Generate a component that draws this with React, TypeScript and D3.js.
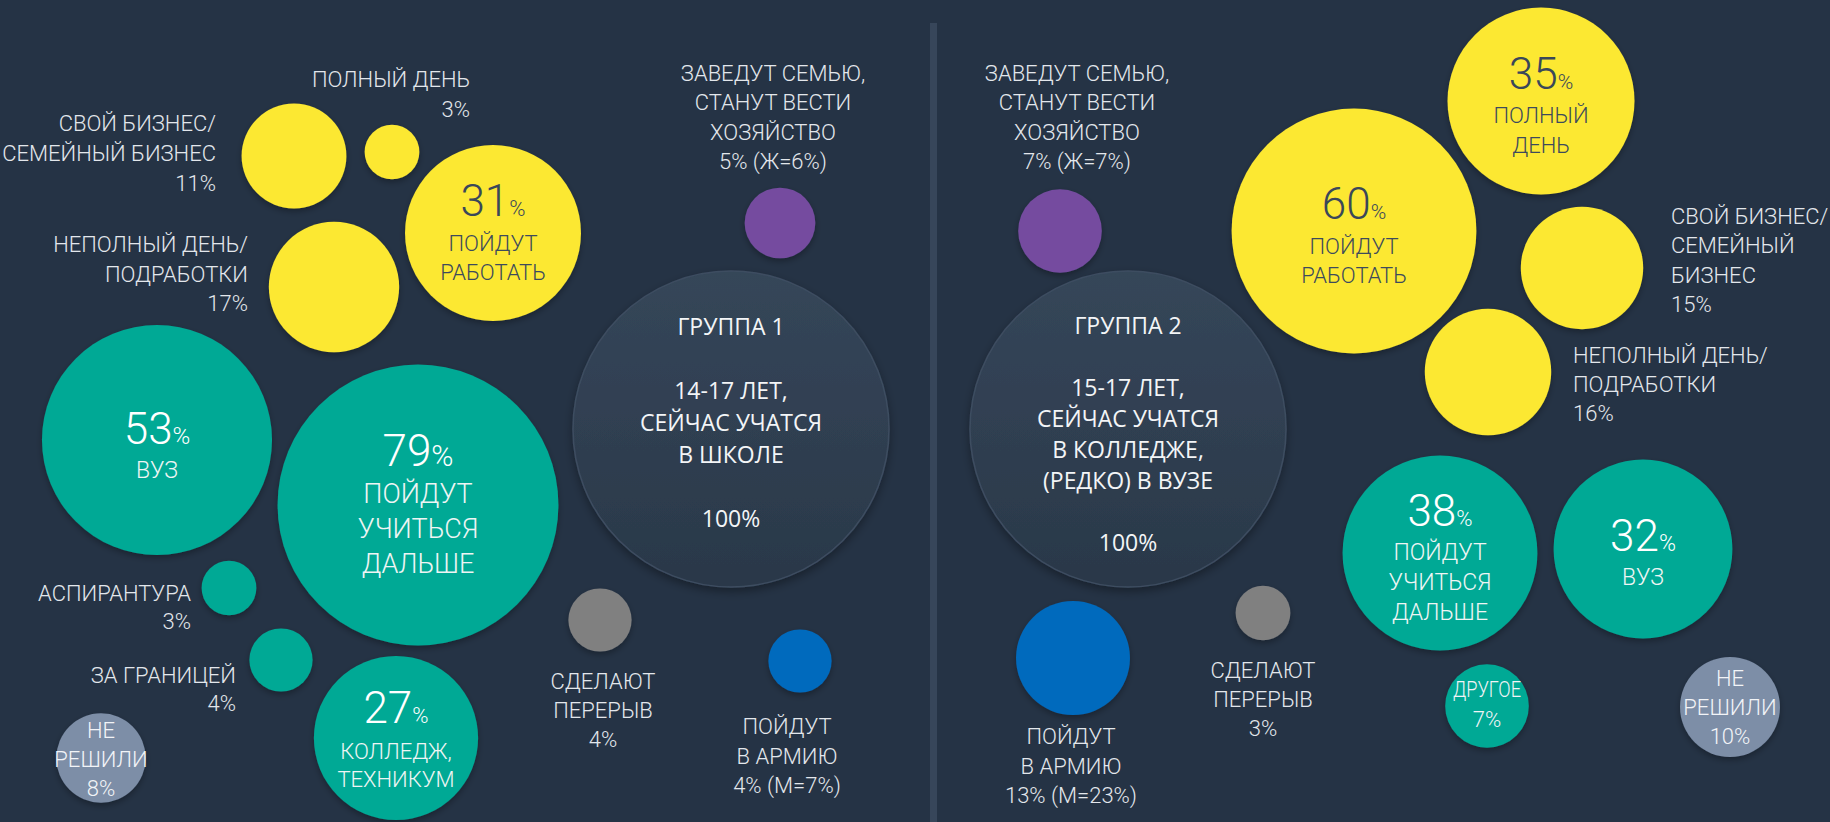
import React from "react";
import * as d3 from "d3";

const W = 1830;
const H = 822;

// ---- data: group 1 (14-17, school) ----
const group1Names = [
  "ГРУППА 1|14-17 ЛЕТ,|СЕЙЧАС УЧАТСЯ|В ШКОЛЕ",
  "ПОЙДУТ|РАБОТАТЬ",
  "ПОЛНЫЙ ДЕНЬ",
  "СВОЙ БИЗНЕС/|СЕМЕЙНЫЙ БИЗНЕС",
  "НЕПОЛНЫЙ ДЕНЬ/|ПОДРАБОТКИ",
  "ПОЙДУТ|УЧИТЬСЯ|ДАЛЬШЕ",
  "ВУЗ",
  "АСПИРАНТУРА",
  "ЗА ГРАНИЦЕЙ",
  "КОЛЛЕДЖ,|ТЕХНИКУМ",
  "НЕ|РЕШИЛИ",
  "ЗАВЕДУТ СЕМЬЮ,|СТАНУТ ВЕСТИ|ХОЗЯЙСТВО",
  "СДЕЛАЮТ|ПЕРЕРЫВ",
  "ПОЙДУТ|В АРМИЮ",
];
const group1Values = [100, 31, 3, 11, 17, 79, 53, 3, 4, 27, 8, 5, 4, 4];
const group1Notes = ["", "", "", "", "", "", "", "", "", "", "", "Ж=6%", "", "М=7%"];
const group1Kinds = [
  "center", "work", "work", "work", "work", "study", "study",
  "study", "study", "study", "undecided", "family", "gap", "army",
];

// ---- data: group 2 (15-17, college) ----
const group2Names = [
  "ГРУППА 2|15-17 ЛЕТ,|СЕЙЧАС УЧАТСЯ|В КОЛЛЕДЖЕ,|(РЕДКО) В ВУЗЕ",
  "ПОЙДУТ|РАБОТАТЬ",
  "ПОЛНЫЙ|ДЕНЬ",
  "СВОЙ БИЗНЕС/|СЕМЕЙНЫЙ|БИЗНЕС",
  "НЕПОЛНЫЙ ДЕНЬ/|ПОДРАБОТКИ",
  "ПОЙДУТ|УЧИТЬСЯ|ДАЛЬШЕ",
  "ВУЗ",
  "ДРУГОЕ",
  "НЕ|РЕШИЛИ",
  "ЗАВЕДУТ СЕМЬЮ,|СТАНУТ ВЕСТИ|ХОЗЯЙСТВО",
  "СДЕЛАЮТ|ПЕРЕРЫВ",
  "ПОЙДУТ|В АРМИЮ",
];
const group2Values = [100, 60, 35, 15, 16, 38, 32, 7, 10, 7, 3, 13];
const group2Notes = ["", "", "", "", "", "", "", "", "", "Ж=7%", "", "М=23%"];
const group2Kinds = [
  "center", "work", "work", "work", "work", "study", "study",
  "study", "undecided", "family", "gap", "army",
];

// ---- layout (hand-placed bubble anchors and label placement) ----
type Lay = {
  x: number; y: number; mode: string;
  lx?: number; ly: number; lh: number;
  gap?: number; fs?: number; pct?: number; anchor?: string; squeeze?: number;
};

const group1Layout: Lay[] = [
  { x: 731, y: 429, mode: "center", ly: 335, lh: 32, fs: 23 },
  { x: 493, y: 233, mode: "big", ly: 216, gap: 35, lh: 29, fs: 22, pct: 22 },
  { x: 392, y: 152, mode: "out", anchor: "end", lx: 470, ly: 87, lh: 30 },
  { x: 294, y: 156, mode: "out", anchor: "end", lx: 216, ly: 131, lh: 30 },
  { x: 334, y: 287, mode: "out", anchor: "end", lx: 248, ly: 252, lh: 29.5 },
  { x: 418, y: 505, mode: "big", ly: 466, gap: 37, lh: 35, fs: 27, pct: 30 },
  { x: 157, y: 440, mode: "big", ly: 444, gap: 34, lh: 30, fs: 23, pct: 24 },
  { x: 229, y: 588, mode: "out", anchor: "end", lx: 191, ly: 601, lh: 28 },
  { x: 281, y: 660, mode: "out", anchor: "end", lx: 236, ly: 683, lh: 28 },
  { x: 396, y: 738, mode: "big", ly: 723, gap: 36, lh: 28, fs: 22, pct: 22 },
  { x: 101, y: 758, mode: "in", ly: 738, lh: 29, fs: 22 },
  { x: 780, y: 223, mode: "out", anchor: "middle", lx: 773, ly: 81, lh: 29.3 },
  { x: 600, y: 620, mode: "out", anchor: "middle", lx: 603, ly: 689, lh: 29 },
  { x: 800, y: 661, mode: "out", anchor: "middle", lx: 787, ly: 734, lh: 29.5 },
];

const group2Layout: Lay[] = [
  { x: 1128, y: 429, mode: "center", ly: 334, lh: 31, fs: 23 },
  { x: 1354, y: 231, mode: "big", ly: 219, gap: 35, lh: 29, fs: 22, pct: 21 },
  { x: 1541, y: 101, mode: "big", ly: 89, gap: 34, lh: 30, fs: 22, pct: 21 },
  { x: 1582, y: 268, mode: "out", anchor: "start", lx: 1671, ly: 224, lh: 29.3 },
  { x: 1488, y: 372, mode: "out", anchor: "start", lx: 1573, ly: 363, lh: 29 },
  { x: 1440, y: 553, mode: "big", ly: 526, gap: 34, lh: 30, fs: 23, pct: 22 },
  { x: 1643, y: 549, mode: "big", ly: 551, gap: 34, lh: 30, fs: 23, pct: 23 },
  { x: 1487, y: 706, mode: "in", ly: 697, lh: 30, fs: 22, squeeze: 68 },
  { x: 1730, y: 707, mode: "in", ly: 686, lh: 29, fs: 22 },
  { x: 1060, y: 231, mode: "out", anchor: "middle", lx: 1077, ly: 81, lh: 29.3 },
  { x: 1263, y: 613, mode: "out", anchor: "middle", lx: 1263, ly: 678, lh: 29 },
  { x: 1073, y: 658, mode: "out", anchor: "middle", lx: 1071, ly: 744, lh: 29.5 },
];

const colors: Record<string, string> = {
  center: "url(#centerGrad)",
  work: "#fce832",
  study: "#06a995",
  family: "#744c9f",
  gap: "#808080",
  army: "#006abd",
  undecided: "#7d8ea7",
};

const FONT_CENTER = "'Open Sans', 'Noto Sans', sans-serif";
const FONT = "Roboto, 'Open Sans', sans-serif";
const LABEL = "#e3e7ec";

const r = d3.scaleSqrt().domain([0, 100]).range([0, 158]);

function Bubble({ name, value, note, kind, lay }: {
  name: string; value: number; note: string; kind: string; lay: Lay;
}) {
  const lines = name.split("|");
  const valText = `${value}%` + (note ? ` (${note})` : "");
  const onYellow = kind === "work";
  const ink = onYellow ? "#3a4759" : "#ffffff";
  const inkLabel = onYellow ? "#3d4a5c" : "#eef5f4";

  let label: React.ReactNode = null;
  if (lay.mode === "center") {
    const all = [lines[0], "", ...lines.slice(1), "", valText];
    label = (
      <text textAnchor="middle" fontFamily={FONT_CENTER} fontSize={lay.fs} fontWeight={400} fill="#f3f5f7">
        {all.map((t, i) => (
          <tspan key={i} x={lay.x} y={lay.ly + i * lay.lh}>{t}</tspan>
        ))}
      </text>
    );
  } else if (lay.mode === "big") {
    label = (
      <g fontFamily={FONT} fontWeight={300} textAnchor="middle">
        <text x={lay.x} y={lay.ly} fill={ink}>
          <tspan fontSize={44}>{value}</tspan>
          <tspan fontSize={lay.pct}>%</tspan>
        </text>
        {lines.map((t, i) => (
          <text key={i} x={lay.x} y={lay.ly + (lay.gap || 0) + i * lay.lh}
            fontSize={lay.fs} fill={inkLabel}>{t}</text>
        ))}
      </g>
    );
  } else if (lay.mode === "in") {
    const all = [...lines, valText];
    label = (
      <g fontFamily={FONT} fontWeight={300} textAnchor="middle" fontSize={lay.fs} fill="#f2f4f7">
        {all.map((t, i) => (
          <text key={i} x={lay.x} y={lay.ly + i * lay.lh}
            {...(lay.squeeze && i === 0 ? { textLength: lay.squeeze, lengthAdjust: "spacingAndGlyphs" } : {})}>
            {t}
          </text>
        ))}
      </g>
    );
  } else {
    const all = [...lines, valText];
    label = (
      <g fontFamily={FONT} fontWeight={300} textAnchor={lay.anchor} fontSize={22} fill={LABEL}>
        {all.map((t, i) => (
          <text key={i} x={lay.lx} y={lay.ly + i * lay.lh}>{t}</text>
        ))}
      </g>
    );
  }

  return (
    <g>
      <circle
        cx={lay.x}
        cy={lay.y}
        r={r(value)}
        fill={colors[kind]}
        stroke={kind === "center" ? "#3e4d61" : "none"}
        strokeWidth={kind === "center" ? 1.5 : 0}
        filter={kind === "center" ? "url(#shadowBig)" : "url(#shadow)"}
      />
      {label}
    </g>
  );
}

function Group({ names, values, notes, kinds, layout }: {
  names: string[]; values: number[]; notes: string[]; kinds: string[]; layout: Lay[];
}) {
  return (
    <g>
      {names.map((n, i) => (
        <Bubble key={i} name={n} value={values[i]} note={notes[i]} kind={kinds[i]} lay={layout[i]} />
      ))}
    </g>
  );
}

export default function App() {
  return (
    <svg
      width={W}
      height={H}
      style={{ position: "absolute", left: 0, top: 0, display: "block" }}
    >
      <defs>
        <linearGradient id="centerGrad" x1="0" y1="0" x2="0" y2="1">
          <stop offset="0%" stopColor="#354659" />
          <stop offset="100%" stopColor="#2a3849" />
        </linearGradient>
        <filter id="shadow" x="-30%" y="-30%" width="160%" height="160%">
          <feDropShadow dx="0" dy="3" stdDeviation="3" floodColor="#000" floodOpacity="0.3" />
        </filter>
        <filter id="shadowBig" x="-20%" y="-20%" width="140%" height="140%">
          <feDropShadow dx="0" dy="4" stdDeviation="5" floodColor="#000" floodOpacity="0.35" />
        </filter>
      </defs>
      <rect width={W} height={H} fill="#253345" />
      <rect x={930} y={23} width={7} height={H - 23} fill="#37465a" />
      <Group names={group1Names} values={group1Values} notes={group1Notes} kinds={group1Kinds} layout={group1Layout} />
      <Group names={group2Names} values={group2Values} notes={group2Notes} kinds={group2Kinds} layout={group2Layout} />
    </svg>
  );
}
